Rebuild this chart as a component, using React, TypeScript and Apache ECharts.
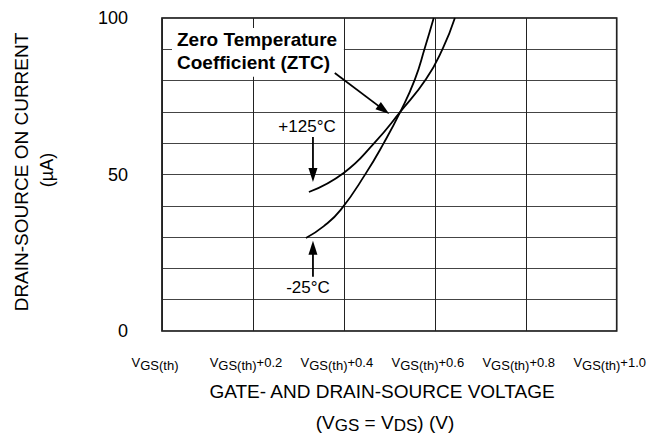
import React, { useEffect, useRef } from "react";
import * as echarts from "echarts";

// ---- data ----
const xTickOffsets = [0, 0.2, 0.4, 0.6, 0.8, 1.0];
const xTickSuffix = ["", "+0.2", "+0.4", "+0.6", "+0.8", "+1.0"];
const yTickLabels = [0, 50, 100];

// [V offset above VGS(th), drain current µA]
const curveMinus25: [number, number][] = [
  [0.3166, 29.7], [0.356, 33.5], [0.393, 38.7], [0.4476, 50.2], [0.488, 60.1],
  [0.524, 70.0], [0.556, 80.3], [0.578, 90.4], [0.5976, 100],
];
const curvePlus125: [number, number][] = [
  [0.3231, 44.4], [0.3996, 50.5], [0.4672, 60.1], [0.524, 70.0],
  [0.5808, 80.5], [0.6179, 90.4], [0.6441, 100],
];

// annotation anchors in data units
const ztcArrow = { from: [0.38, 82.4], to: [0.5, 69.3] };
const plus125Arrow = { from: [0.332, 62], to: [0.332, 47.6] };
const minus25Arrow = { from: [0.332, 17.3], to: [0.332, 28.8] };
const plus125Label = { pos: [0.319, 65.3], text: "+125°C" };
const minus25Label = { pos: [0.321, 13.9], text: "-25°C" };
const ztcBox = { tl: [0.022, 96.8], br: [0.4, 81.2], textPos: [0.033, 89.4] };
const ztcText = "Zero Temperature\nCoefficient (ZTC)";

const FONT = "Arial, 'Liberation Sans', Helvetica, sans-serif";

function arrow(from: number[], to: number[], headLen = 14, headW = 9) {
  const [x1, y1] = from;
  const [x2, y2] = to;
  const dx = x2 - x1, dy = y2 - y1;
  const L = Math.hypot(dx, dy);
  const ux = dx / L, uy = dy / L;
  const bx = x2 - ux * headLen, by = y2 - uy * headLen;
  const px = (-uy * headW) / 2, py = (ux * headW) / 2;
  return [
    { type: "line", z: 20, shape: { x1, y1, x2: bx + ux * 2, y2: by + uy * 2 }, style: { stroke: "#000", lineWidth: 1.8 } },
    { type: "polygon", z: 20, shape: { points: [[x2, y2], [bx + px, by + py], [bx - px, by - py]] }, style: { fill: "#000" } },
  ];
}

export default function App() {
  const ref = useRef<HTMLDivElement>(null);
  useEffect(() => {
    if (!ref.current) return;
    const chart = echarts.init(ref.current, undefined, { renderer: "svg" });
    const option: any = {
      animation: false,
      backgroundColor: "#fff",
      grid: { left: 162, right: 43, top: 18, bottom: 103, show: true, borderColor: "#000", borderWidth: 1.6, backgroundColor: "transparent" },
      xAxis: {
        type: "value", min: 0, max: 1, interval: 0.2,
        axisLine: { show: false }, axisTick: { show: false },
        splitLine: { show: true, lineStyle: { color: "#222", width: 1 } },
        axisLabel: {
          margin: 22, showMinLabel: true, showMaxLabel: true, hideOverlap: false,
          formatter: (v: number) => {
            const i = xTickOffsets.findIndex((t) => Math.abs(t - v) < 1e-6);
            const suf = i >= 0 ? xTickSuffix[i] : "";
            return suf ? `{v|V}{s|GS(th)}{v|${suf}}{pad| }` : `{v|V}{s|GS(th)}{pad| }`;
          },
          rich: {
            v: { fontSize: 13, lineHeight: 18, fontFamily: FONT, color: "#000" },
            s: { fontSize: 13, lineHeight: 18, fontFamily: FONT, color: "#000", padding: [6, 0, 0, 0] },
            pad: { width: 14, fontSize: 13, lineHeight: 18 },
          },
        },
      },
      yAxis: {
        type: "value", min: 0, max: 100, interval: 10,
        axisLine: { show: false }, axisTick: { show: false },
        splitLine: { show: true, lineStyle: { color: "#444", width: 1 } },
        axisLabel: {
          margin: 34, fontSize: 18, fontFamily: FONT, color: "#000", padding: [5, 0, 0, 0],
          formatter: (v: number) => (yTickLabels.includes(Math.round(v)) ? String(Math.round(v)) : ""),
        },
      },
      series: [
        { name: "+125°C", type: "line", data: curvePlus125, smooth: 0.5, showSymbol: false, lineStyle: { color: "#000", width: 1.8 }, z: 5 },
        { name: "-25°C", type: "line", data: curveMinus25, smooth: 0.5, showSymbol: false, lineStyle: { color: "#000", width: 1.8 }, z: 5 },
      ],
    };
    chart.setOption(option);
    const P = (p: number[]) => chart.convertToPixel({ gridIndex: 0 }, p) as number[];
    const tl = P(ztcBox.tl), br = P(ztcBox.br), tp = P(ztcBox.textPos);
    const l125 = P(plus125Label.pos), l25 = P(minus25Label.pos);
    const graphic: any[] = [
      { type: "rect", z: 15, shape: { x: tl[0], y: tl[1], width: br[0] - tl[0], height: br[1] - tl[1] }, style: { fill: "#fff" } },
      { type: "text", z: 16, x: tp[0], y: tp[1], style: { text: ztcText, font: `bold 19px ${FONT}`, fill: "#000", lineHeight: 23, verticalAlign: "middle", align: "left" } },
      ...arrow(P(ztcArrow.from), P(ztcArrow.to)),
      ...arrow(P(plus125Arrow.from), P(plus125Arrow.to)),
      ...arrow(P(minus25Arrow.from), P(minus25Arrow.to)),
      { type: "text", z: 16, x: l125[0], y: l125[1], style: { text: plus125Label.text, font: `17px ${FONT}`, fill: "#000", align: "center", verticalAlign: "middle" } },
      { type: "text", z: 16, x: l25[0], y: l25[1], style: { text: minus25Label.text, font: `17px ${FONT}`, fill: "#000", align: "center", verticalAlign: "middle" } },
      // axis titles
      { type: "text", z: 16, x: 382, y: 391, style: { text: "GATE- AND DRAIN-SOURCE VOLTAGE", font: `19px ${FONT}`, fill: "#000", align: "center", verticalAlign: "middle" } },
      {
        type: "text", z: 16, x: 385, y: 422,
        style: {
          text: "{n|(V}{s|GS}{n| = V}{s|DS}{n|) (V)}", align: "center", verticalAlign: "middle", fill: "#000",
          rich: {
            n: { fontSize: 19, lineHeight: 20, fontFamily: FONT, fill: "#000" },
            s: { fontSize: 17, lineHeight: 20, fontFamily: FONT, fill: "#000", padding: [6, 0, 0, 0] },
          },
        },
      },
      { type: "text", z: 16, x: 21, y: 172, rotation: Math.PI / 2, style: { text: "DRAIN-SOURCE ON CURRENT", font: `19px ${FONT}`, fill: "#000", align: "center", verticalAlign: "middle" } },
      { type: "text", z: 16, x: 47, y: 170, rotation: Math.PI / 2, style: { text: "(µA)", font: `18px ${FONT}`, fill: "#000", align: "center", verticalAlign: "middle" } },
    ];
    chart.setOption({ graphic });
    return () => chart.dispose();
  }, []);
  return <div ref={ref} style={{ position: "fixed", left: 0, top: 0, width: 663, height: 434, background: "#fff" }} />;
}
